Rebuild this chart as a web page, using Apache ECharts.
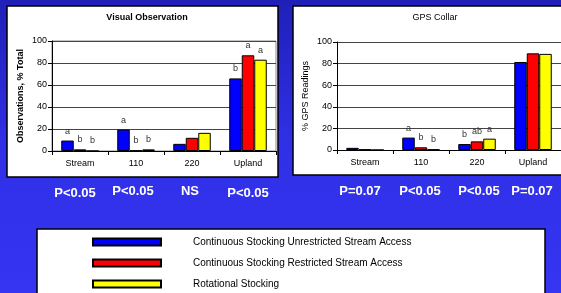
<!DOCTYPE html>
<html>
<head>
<meta charset="utf-8">
<script src="https://cdn.jsdelivr.net/npm/echarts@6/dist/echarts.min.js"></script>
<style>
  html, body { margin: 0; padding: 0; }
  #main { width: 561px; height: 293px; }
</style>
</head>
<body>
<div id="main"></div>
<script>
// categories and series
var categories = ['Stream', '110', '220', 'Upland'];
var seriesNames = [
    'Continuous Stocking Unrestricted Stream Access',
    'Continuous Stocking Restricted Stream Access',
    'Rotational Stocking'
];
var colors = ['#0000ff', '#ff0000', '#ffff00'];

// Visual Observation (% total)
var visUnrestricted = [9.5, 19.5, 6.5, 66];
var visRestricted = [1.5, 0.5, 12, 87];
var visRotational = [0, 1.5, 16.5, 83];
var visLetters = [['a', 'a', '', 'b'], ['b', 'b', '', 'a'], ['b', 'b', '', 'a']];
var visP = ['P<0.05', 'P<0.05', 'NS', 'P<0.05'];

// GPS Collar (% readings)
var gpsUnrestricted = [2, 11.5, 5.5, 81.5];
var gpsRestricted = [0.5, 2.5, 8, 89.5];
var gpsRotational = [0, 0.5, 10.5, 89];
var gpsLetters = [['', 'a', 'b', ''], ['', 'b', 'ab', ''], ['', 'b', 'a', '']];
var gpsP = ['P=0.07', 'P<0.05', 'P<0.05', 'P=0.07'];

var yTicks = [0, 20, 40, 60, 80, 100];

var FONT = 'Arial, "Liberation Sans", sans-serif';

function makeBars(values, idx, axisIdx, letters) {
    return {
        name: seriesNames[idx],
        type: 'bar',
        xAxisIndex: axisIdx,
        yAxisIndex: axisIdx,
        data: values,
        barWidth: 12.5,
        barGap: '0%',
        itemStyle: { color: colors[idx], borderColor: '#000', borderWidth: 1 },
        label: {
            show: true,
            position: 'top',
            distance: 5,
            fontSize: 9,
            fontFamily: FONT,
            color: '#333',
            formatter: function (p) { return letters[idx][p.dataIndex]; }
        },
        emphasis: { disabled: true },
        animation: false
    };
}

function xAxisFor(gridIdx) {
    return {
        type: 'category',
        gridIndex: gridIdx,
        data: categories,
        axisLine: { lineStyle: { color: '#000', width: 1 } },
        axisTick: { show: true, length: 4, lineStyle: { color: '#000' } },
        axisLabel: { fontSize: 9, fontFamily: FONT, color: '#000', margin: 8 }
    };
}

function yAxisFor(gridIdx, name, bold) {
    return {
        type: 'value',
        gridIndex: gridIdx,
        min: yTicks[0],
        max: yTicks[yTicks.length - 1],
        interval: yTicks[1] - yTicks[0],
        name: name,
        nameLocation: 'middle',
        nameGap: 27,
        nameTextStyle: { fontSize: 9, fontFamily: FONT, color: '#000', fontWeight: bold ? 'bold' : 'normal' },
        axisLine: { show: true, lineStyle: { color: '#000', width: 1 } },
        axisTick: { show: true, length: 4, lineStyle: { color: '#000' } },
        axisLabel: { fontSize: 9, fontFamily: FONT, color: '#000', margin: 5 },
        splitLine: { lineStyle: { color: '#444', width: 1 } }
    };
}

// P value labels under each panel (x centres in px)
var visPX = [75, 133, 190, 248];
var visPY = [193, 191, 191, 193];
var gpsPX = [360, 420, 479, 532];
var pTexts = [];
visP.forEach(function (t, i) {
    pTexts.push({ type: 'text', x: visPX[i], y: visPY[i], z: 20,
        style: { text: t, fill: '#fff', font: 'bold 13px ' + FONT, textAlign: 'center', textVerticalAlign: 'middle' } });
});
gpsP.forEach(function (t, i) {
    pTexts.push({ type: 'text', x: gpsPX[i], y: 191, z: 20,
        style: { text: t, fill: '#fff', font: 'bold 13px ' + FONT, textAlign: 'center', textVerticalAlign: 'middle' } });
});

var chart = echarts.init(document.getElementById('main'));
chart.setOption({
    animation: false,
    backgroundColor: {
        type: 'linear', x: 0, y: 0, x2: 0, y2: 1,
        colorStops: [{ offset: 0, color: '#2020b8' }, { offset: 0.5, color: '#3030e8' }, { offset: 1, color: '#3535f2' }]
    },
    title: [
        { text: 'Visual Observation', left: 142, top: 8, textAlign: 'center',
          textStyle: { fontSize: 9, fontWeight: 'bold', fontFamily: FONT, color: '#000' } },
        { text: 'GPS Collar', left: 430, top: 8, textAlign: 'center',
          textStyle: { fontSize: 9, fontWeight: 'normal', fontFamily: FONT, color: '#000' } }
    ],
    graphic: [
        { type: 'rect', z: -10, shape: { x: 7, y: 6, width: 271, height: 171 },
          style: { fill: '#fff', stroke: '#000', lineWidth: 1.5 } },
        { type: 'rect', z: -10, shape: { x: 293, y: 6, width: 280, height: 169 },
          style: { fill: '#fff', stroke: '#000', lineWidth: 1.5 } },
        { type: 'rect', z: -10, shape: { x: 37, y: 229, width: 508, height: 80 },
          style: { fill: '#fff', stroke: '#000', lineWidth: 1.5 } }
    ].concat(pTexts),
    grid: [
        { left: 52, top: 41, width: 224, height: 110, show: true, borderColor: '#888', borderWidth: 1, backgroundColor: 'transparent' },
        { left: 337, top: 42, width: 224, height: 108 }
    ],
    legend: {
        data: seriesNames,
        orient: 'vertical',
        left: 92,
        top: 237,
        padding: 0,
        itemWidth: 68,
        itemHeight: 7,
        itemGap: 11,
        icon: 'rect',
        selectedMode: false,
        textStyle: { fontSize: 10, fontFamily: FONT, color: '#000', padding: [0, 0, 0, 27] }
    },
    xAxis: [xAxisFor(0), xAxisFor(1)],
    yAxis: [yAxisFor(0, 'Observations, % Total', true), yAxisFor(1, '% GPS Readings', false)],
    series: [
        makeBars(visUnrestricted, 0, 0, visLetters),
        makeBars(visRestricted, 1, 0, visLetters),
        makeBars(visRotational, 2, 0, visLetters),
        makeBars(gpsUnrestricted, 0, 1, gpsLetters),
        makeBars(gpsRestricted, 1, 1, gpsLetters),
        makeBars(gpsRotational, 2, 1, gpsLetters)
    ]
});
</script>
</body>
</html>
